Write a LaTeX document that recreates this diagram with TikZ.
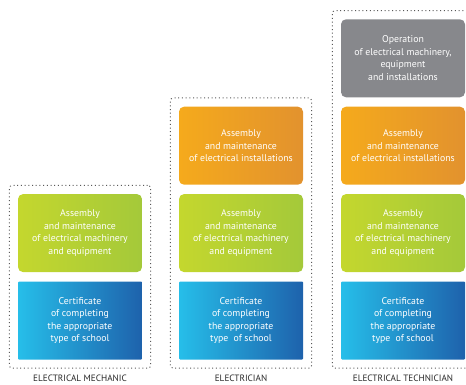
\documentclass[tikz,border=0pt]{standalone}
\usepackage{fontspec}
\setmainfont{PT Sans}
\usetikzlibrary{fit,positioning}

\definecolor{greenL}{RGB}{196,215,46}
\definecolor{greenR}{RGB}{164,201,58}
\definecolor{orangeL}{RGB}{245,170,28}
\definecolor{orangeR}{RGB}{226,146,46}
\definecolor{blueL}{RGB}{38,190,233}
\definecolor{blueR}{RGB}{30,98,172}
\definecolor{grayB}{RGB}{135,136,140}
\definecolor{labelC}{RGB}{40,40,40}

\tikzset{
  stage/.style={minimum width=124pt,minimum height=78pt,rounded corners=5pt,
    text=white,align=center,font=\fontsize{9.8}{12.5}\selectfont,inner sep=0pt},
  school/.style={stage,rounded corners=1pt,left color=blueL,right color=blueR},
  machinery/.style={stage,left color=greenL,right color=greenR},
  installs/.style={stage,left color=orangeL,right color=orangeR},
  operation/.style={stage,fill=grayB},
  track/.style={draw=black!65,line width=1pt,dash pattern=on 1pt off 2.7pt,
    rounded corners=3pt,inner sep=8.5pt},
  title/.style={text=labelC,font=\fontsize{9.2}{10}\selectfont}
}

\begin{document}
\begin{tikzpicture}[x=1pt,y=-1pt]
\useasboundingbox (0,0) rectangle (466,385);
% electrical mechanic
\node[school] (s1) at (80,320.5) {Certificate\\of completing\\the appropriate\\type of school};
\node[machinery,above=9pt of s1] (m1) {Assembly\\and maintenance\\of electrical machinery\\and equipment};
\node[track,fit=(s1) (m1)] (mech) {};
\node[title,below=2.5pt of mech] (t1) {ELECTRICAL MECHANIC};
% electrician
\node[school] (s2) at (241,320.5) {Certificate\\of completing\\the appropriate\\type\ \ of school};
\node[machinery,above=9pt of s2] (m2) {Assembly\\and maintenance\\of electrical machinery\\and equipment};
\node[installs,above=9pt of m2] (i2) {Assembly\\and maintenance\\of electrical installations};
\node[track,fit=(s2) (i2)] (elec) {};
\node[title,below=2.5pt of elec] (t2) {ELECTRICIAN};
% electrical technician
\node[school] (s3) at (403,320.5) {Certificate\\of completing\\the appropriate\\type\ \ of school};
\node[machinery,above=9pt of s3] (m3) {Assembly\\and maintenance\\of electrical machinery\\and equipment};
\node[installs,above=9pt of m3] (i3) {Assembly\\and maintenance\\of electrical installations};
\node[operation,above=9pt of i3] (o3) {Operation\\of electrical machinery,\\equipment\\and installations};
\node[track,fit=(s3) (o3)] (tech) {};
\node[title,below=2.5pt of tech] (t3) {ELECTRICAL TECHNICIAN};
\end{tikzpicture}
\end{document}
